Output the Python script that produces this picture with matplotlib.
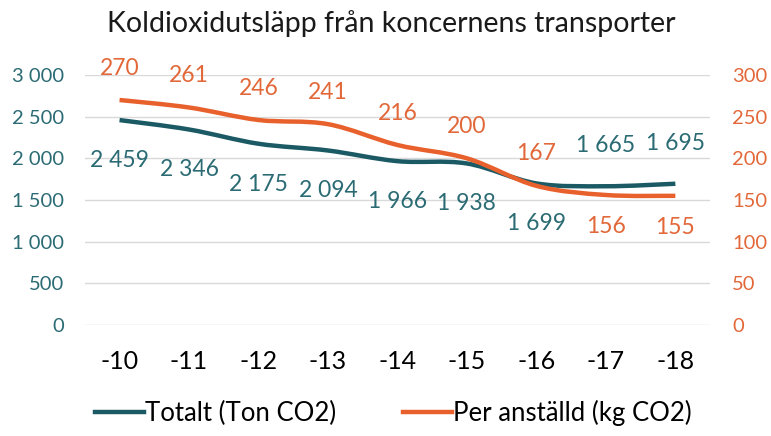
import numpy as np
import matplotlib
matplotlib.use("Agg")
import matplotlib.pyplot as plt
from matplotlib.path import Path
from matplotlib.patches import PathPatch
from matplotlib.lines import Line2D

plt.rcParams['font.family'] = ['Lato', 'DejaVu Sans']

years = ['-10', '-11', '-12', '-13', '-14', '-15', '-16', '-17', '-18']
totalt = [2459, 2346, 2175, 2094, 1966, 1938, 1699, 1665, 1695]
per_anst = [270, 261, 246, 241, 216, 200, 167, 156, 155]
# etiketter under (-1) eller över (+1) linjen
tot_side = [-1, -1, -1, -1, -1, -1, -1, 1, 1]
per_side = [1, 1, 1, 1, 1, 1, 1, -1, -1]

teal = '#1b5a64'
orange = '#e8612c'
teal_txt = '#2b6b74'
orange_txt = '#e2683a'


def smooth_path(x, y):
    # Catmull-Rom -> Bezier, som Excels utjämnade linje
    x = np.asarray(x, float)
    y = np.asarray(y, float)
    verts = [(x[0], y[0])]
    codes = [Path.MOVETO]
    n = len(x)
    for i in range(n - 1):
        p0 = (x[max(i - 1, 0)], y[max(i - 1, 0)])
        p1 = (x[i], y[i])
        p2 = (x[i + 1], y[i + 1])
        p3 = (x[min(i + 2, n - 1)], y[min(i + 2, n - 1)])
        c1 = (p1[0] + (p2[0] - p0[0]) / 6, p1[1] + (p2[1] - p0[1]) / 6)
        c2 = (p2[0] - (p3[0] - p1[0]) / 6, p2[1] - (p3[1] - p1[1]) / 6)
        verts += [c1, c2, p2]
        codes += [Path.CURVE4] * 3
    return Path(verts, codes)


def fmt(v):
    return f"{v:,}".replace(',', ' ')


fig = plt.figure(figsize=(7.71, 4.36), dpi=100)
ax = fig.add_axes([0.110, 0.2546, 0.811, 0.5734])
ax2 = ax.twinx()

x = np.arange(len(years))
ax.set_xlim(-0.5, len(years) - 0.5)
ax.set_ylim(0, 3000)
ax2.set_ylim(0, 300)

ax.set_yticks(range(0, 3001, 500))
ax.set_yticklabels([fmt(v) for v in range(0, 3001, 500)])
ax2.set_yticks(range(0, 301, 50))
ax.grid(axis='y', color='#d9d9d9', lw=1)
ax.set_axisbelow(True)

for a in (ax, ax2):
    for s in a.spines.values():
        s.set_visible(False)
    a.tick_params(length=0)

ax.tick_params(axis='y', colors=teal_txt, labelsize=14.5, pad=15)
ax2.tick_params(axis='y', colors=orange_txt, labelsize=14.5, pad=16)
ax.set_xticks(x)
ax.set_xticklabels(years)
ax.tick_params(axis='x', colors='black', labelsize=18, pad=18)

ax.add_patch(PathPatch(smooth_path(x, totalt), fill=False, ec=teal, lw=3.2,
                       capstyle='butt'))
ax2.add_patch(PathPatch(smooth_path(x, per_anst), fill=False, ec=orange,
                        lw=3.2, capstyle='butt'))

for xi, v, s in zip(x, totalt, tot_side):
    ax.annotate(fmt(v), (xi, v), xytext=(0, 29 * s), textcoords='offset points',
                ha='center', va='center', color=teal_txt, fontsize=16.5)
for xi, v, s in zip(x, per_anst, per_side):
    ax2.annotate(str(v), (xi, v), xytext=(0, 23 * s), textcoords='offset points',
                 ha='center', va='center', color=orange_txt, fontsize=16.5)

fig.text(0.507, 0.945, 'Koldioxidutsläpp från koncernens transporter',
         ha='center', va='center', fontsize=20.5, color='#1a1a1a')

handles = [Line2D([], [], color=teal, lw=3.2),
           Line2D([], [], color=orange, lw=3.2)]
fig.legend(handles, ['Totalt (Ton CO2)', 'Per anställd (kg CO2)'],
           loc='center', bbox_to_anchor=(0.51, 0.052), ncol=2, frameon=False,
           fontsize=18.5, handlelength=1.9, handletextpad=0.05, columnspacing=2.6)

fig.savefig('out.png', dpi=100, facecolor='white')
